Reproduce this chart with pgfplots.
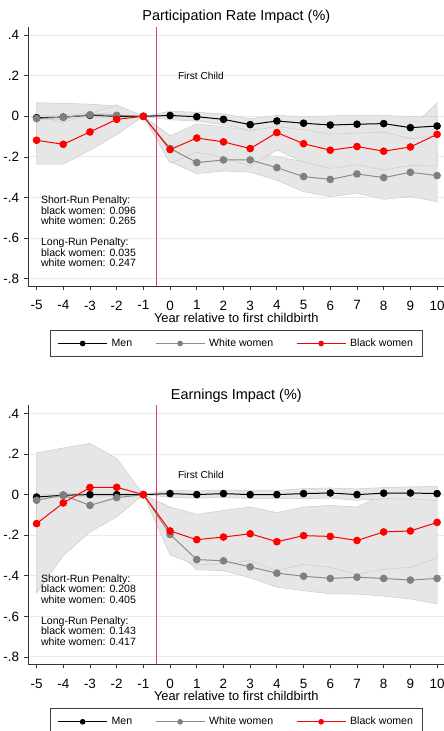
\documentclass[border=0pt]{standalone}
\usepackage{fontspec}
\setmainfont{Liberation Sans}
\usepackage{pgfplots}
\pgfplotsset{compat=1.18}
\definecolor{bandfill}{RGB}{230,230,230}
\definecolor{bandedge}{RGB}{204,204,204}
\definecolor{gridc}{RGB}{228,238,240}
\definecolor{vline}{RGB}{226,62,110}
\definecolor{wgray}{RGB}{128,128,128}
\definecolor{wline}{RGB}{140,140,140}
\tikzset{txt/.style={anchor=north west, align=left, inner sep=0pt, font=\fontsize{10.6}{10.5}\selectfont}}
\pgfplotsset{
 panel/.style={
  width=416bp, height=259bp, scale only axis,
  xmin=-5.31, xmax=10.27, ymin=-0.836, ymax=0.44,
  axis x line*=bottom, axis y line*=left,
  axis line style={black!80, line width=0.8bp},
  xtick={-5,-4,-3,-2,-1,0,1,2,3,4,5,6,7,8,9,10},
  xticklabels={-5,-4,-3,-2,-1,0,1,2,3,4,5,6,7,8,9,10},
  ytick={-0.8,-0.6,-0.4,-0.2,0,0.2,0.4},
  yticklabels={-.8,-.6,-.4,-.2,0,.2,.4},
  tick align=outside, major tick length=4bp,
  tick style={black!80, line width=0.8bp},
  ymajorgrids, grid style={gridc, line width=1bp},
  /pgf/number format/assume math mode=true,
  tick label style={font=\fontsize{13.5}{13.5}\selectfont, inner sep=0pt},
  yticklabel style={anchor=east, xshift=-5bp},
  xticklabel style={anchor=north, yshift=-10.5bp},
  xlabel={Year relative to first childbirth},
  xlabel style={at={(axis description cs:0.5,0)}, anchor=north, yshift=-26.5bp, inner sep=0pt, font=\fontsize{12.9}{13}\selectfont},
  title style={at={(axis description cs:0.5,1)}, anchor=base, yshift=0.3bp, inner sep=0pt, font=\fontsize{14.5}{15}\selectfont},
  legend style={at={(axis description cs:0.5,-0.17)}, anchor=north, legend columns=3,
    draw=black!75, line width=0.8bp, font=\fontsize{10.6}{12}\selectfont,
    inner xsep=7bp, inner ysep=6.5bp,
    /tikz/every even column/.append style={column sep=21bp},
    /tikz/every odd column/.append style={column sep=2bp},
    cells={anchor=west}},
  legend image code/.code={\draw[##1, mark size=2.3bp, mark repeat=2, mark phase=2] plot coordinates {(0bp,0bp) (24.5bp,0bp) (49bp,0bp)};},
 },
 band/.style={fill=bandfill, draw=bandedge, line width=0.5bp, forget plot},
 menl/.style={black, line width=1bp, mark=*, mark size=3.3bp, mark options={solid, fill=black, draw=black}},
 whitel/.style={wline, line width=1bp, mark=*, mark size=3.3bp, mark options={solid, fill=wgray, draw=wgray}},
 blackl/.style={red, line width=1bp, mark=*, mark size=3.3bp, mark options={solid, fill=red, draw=red}},
}
\begin{document}
\begin{tikzpicture}
% ---------------- Top panel ----------------
\begin{axis}[panel, at={(28.3bp,445bp)}, anchor=south west, title={Participation Rate Impact (\%)}]
\addplot[band] coordinates {(-5,0.067)(-4,0.064)(-3,0.06)(-2,0.05)(-1,0)(0,-0.096)(1,-0.174)(2,-0.182)(3,-0.18)(4,-0.199)(5,-0.223)(6,-0.226)(7,-0.19)(8,-0.195)(9,-0.156)(10,-0.164)
 (10,-0.42)(9,-0.396)(8,-0.409)(7,-0.378)(6,-0.396)(5,-0.371)(4,-0.315)(3,-0.275)(2,-0.27)(1,-0.282)(0,-0.224)(-1,0)(-2,-0.04)(-3,-0.044)(-4,-0.074)(-5,-0.089)} -- cycle;
\addplot[band] coordinates {(-5,0.001)(-4,-0.03)(-3,0.013)(-2,0.056)(-1,0)(0,-0.097)(1,-0.037)(2,-0.051)(3,-0.072)(4,0.006)(5,-0.045)(6,-0.077)(7,-0.059)(8,-0.08)(9,-0.06)(10,0.067)
 (10,-0.245)(9,-0.242)(8,-0.264)(7,-0.239)(6,-0.257)(5,-0.225)(4,-0.166)(3,-0.246)(2,-0.201)(1,-0.177)(0,-0.231)(-1,0)(-2,-0.09)(-3,-0.167)(-4,-0.236)(-5,-0.236)} -- cycle;
\addplot[band] coordinates {(-5,0.003)(-4,0.006)(-3,0.015)(-2,0.01)(-1,0)(0,0.025)(1,0.02)(2,0.012)(3,-0.012)(4,0.005)(5,-0.002)(6,0.002)(7,0.005)(8,0.005)(9,-0.002)(10,0.0)
 (10,-0.096)(9,-0.11)(8,-0.077)(7,-0.083)(6,-0.088)(5,-0.066)(4,-0.051)(3,-0.07)(2,-0.042)(1,-0.024)(0,-0.017)(-1,0)(-2,-0.01)(-3,-0.005)(-4,-0.014)(-5,-0.017)} -- cycle;
\addplot[vline, line width=1bp, forget plot] coordinates {(-0.5,-0.836) (-0.5,0.44)};
\addplot[menl] coordinates {(-5,-0.007)(-4,-0.004)(-3,0.005)(-2,0.0)(-1,0)(0,0.004)(1,-0.002)(2,-0.015)(3,-0.041)(4,-0.023)(5,-0.034)(6,-0.043)(7,-0.039)(8,-0.036)(9,-0.056)(10,-0.048)};
\addplot[whitel] coordinates {(-5,-0.011)(-4,-0.005)(-3,0.008)(-2,0.005)(-1,0)(0,-0.158)(1,-0.228)(2,-0.215)(3,-0.215)(4,-0.253)(5,-0.297)(6,-0.311)(7,-0.284)(8,-0.302)(9,-0.276)(10,-0.292)};
\addplot[blackl] coordinates {(-5,-0.118)(-4,-0.138)(-3,-0.077)(-2,-0.015)(-1,0)(0,-0.164)(1,-0.107)(2,-0.126)(3,-0.159)(4,-0.080)(5,-0.135)(6,-0.167)(7,-0.149)(8,-0.172)(9,-0.151)(10,-0.089)};
\legend{Men, White women, Black women}
\node[anchor=west, inner sep=0pt, font=\fontsize{10.2}{11}\selectfont] at (axis cs:0.29,0.2) {First Child};
\node[txt] at (axis cs:-4.84,-0.393) {Short-Run Penalty:\\black women: 0.096\\white women: 0.265\\[10.5bp]Long-Run Penalty:\\black women: 0.035\\white women: 0.247};
\end{axis}
% ---------------- Bottom panel ----------------
\begin{axis}[panel, at={(28.3bp,66.7bp)}, anchor=south west, title={Earnings Impact (\%)}]
\addplot[band] coordinates {(-5,0.03)(-4,0.05)(-3,0.0)(-2,0.04)(-1,0)(0,-0.14)(1,-0.27)(2,-0.28)(3,-0.30)(4,-0.32)(5,-0.33)(6,-0.34)(7,-0.32)(8,-0.33)(9,-0.33)(10,-0.29)
 (10,-0.538)(9,-0.514)(8,-0.50)(7,-0.49)(6,-0.489)(5,-0.473)(4,-0.456)(3,-0.41)(2,-0.375)(1,-0.37)(0,-0.25)(-1,0)(-2,-0.07)(-3,-0.11)(-4,-0.06)(-5,-0.09)} -- cycle;
\addplot[band] coordinates {(-5,0.206)(-4,0.23)(-3,0.252)(-2,0.178)(-1,0)(0,-0.061)(1,-0.097)(2,-0.078)(3,-0.061)(4,-0.089)(5,-0.061)(6,-0.053)(7,-0.061)(8,0.0)(9,0.0)(10,0.04)
 (10,-0.314)(9,-0.358)(8,-0.368)(7,-0.391)(6,-0.359)(5,-0.343)(4,-0.375)(3,-0.325)(2,-0.34)(1,-0.347)(0,-0.297)(-1,0)(-2,-0.11)(-3,-0.184)(-4,-0.30)(-5,-0.486)} -- cycle;
\addplot[band] coordinates {(-5,-0.004)(-4,0.005)(-3,0.008)(-2,0.008)(-1,0)(0,0.023)(1,0.018)(2,0.023)(3,0.02)(4,0.02)(5,0.03)(6,0.033)(7,0.028)(8,0.035)(9,0.038)(10,0.04)
 (10,-0.03)(9,-0.022)(8,-0.021)(7,-0.028)(6,-0.017)(5,-0.02)(4,-0.02)(3,-0.02)(2,-0.013)(1,-0.018)(0,-0.013)(-1,0)(-2,-0.008)(-3,-0.008)(-4,-0.011)(-5,-0.02)} -- cycle;
\addplot[vline, line width=1bp, forget plot] coordinates {(-0.5,-0.836) (-0.5,0.44)};
\addplot[menl] coordinates {(-5,-0.012)(-4,-0.003)(-3,0)(-2,0)(-1,0)(0,0.005)(1,0)(2,0.005)(3,0)(4,0)(5,0.005)(6,0.008)(7,0)(8,0.007)(9,0.008)(10,0.005)};
\addplot[whitel] coordinates {(-5,-0.028)(-4,-0.003)(-3,-0.053)(-2,-0.015)(-1,0)(0,-0.196)(1,-0.32)(2,-0.326)(3,-0.356)(4,-0.387)(5,-0.402)(6,-0.413)(7,-0.407)(8,-0.413)(9,-0.421)(10,-0.413)};
\addplot[blackl] coordinates {(-5,-0.143)(-4,-0.041)(-3,0.035)(-2,0.036)(-1,0)(0,-0.179)(1,-0.222)(2,-0.209)(3,-0.193)(4,-0.232)(5,-0.202)(6,-0.206)(7,-0.226)(8,-0.184)(9,-0.179)(10,-0.137)};
\legend{Men, White women, Black women}
\node[anchor=west, inner sep=0pt, font=\fontsize{10.2}{11}\selectfont] at (axis cs:0.29,0.099) {First Child};
\node[txt] at (axis cs:-4.84,-0.393) {Short-Run Penalty:\\black women: 0.208\\white women: 0.405\\[10.5bp]Long-Run Penalty:\\black women: 0.143\\white women: 0.417};
\end{axis}
\pgfresetboundingbox
\path[use as bounding box] (0bp,0bp) rectangle (444bp,731bp);
\end{tikzpicture}
\end{document}
